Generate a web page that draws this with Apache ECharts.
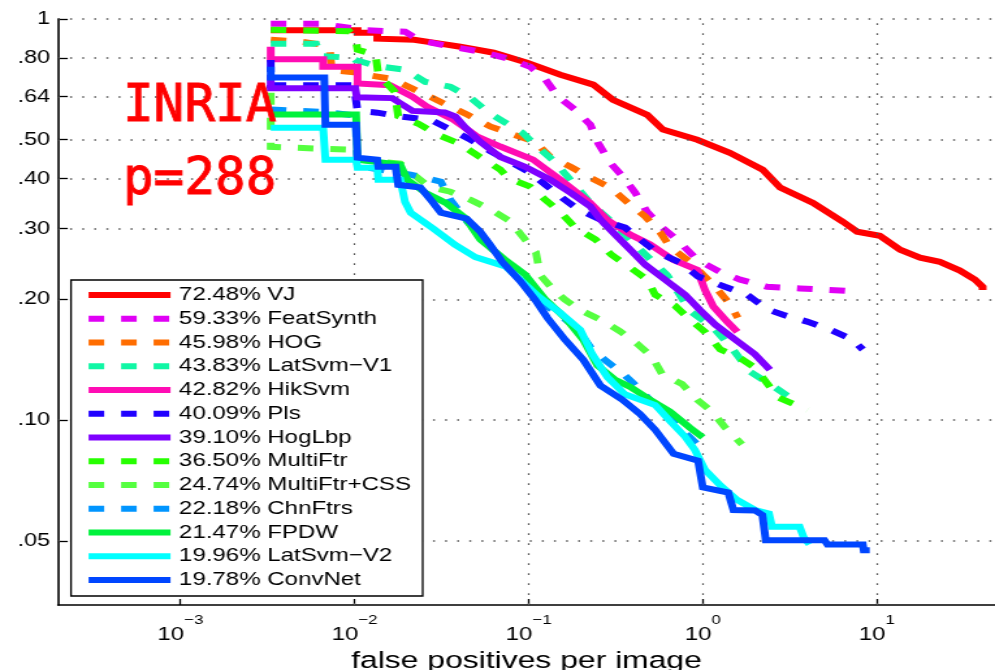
<!DOCTYPE html>
<html>
<head>
<meta charset="utf-8">
<script src="https://cdn.jsdelivr.net/npm/echarts@6/dist/echarts.min.js"></script>
<style>
html,body{margin:0;padding:0;background:#fff;overflow:hidden}
#wrap{width:995px;height:670px;overflow:hidden}
#chart{width:765px;height:670px;transform:scaleX(1.30065);transform-origin:0 0}
</style>
</head>
<body>
<div id="wrap"><div id="chart"></div></div>
<script>
// ---- data: [false positives per image, miss rate] ----
const methodNames = ['VJ','FeatSynth','HOG','LatSvm\u2212V1','HikSvm','Pls','HogLbp','MultiFtr','MultiFtr+CSS','ChnFtrs','FPDW','LatSvm\u2212V2','ConvNet'];
const logAvgMissRates = ['72.48','59.33','45.98','43.83','42.82','40.09','39.10','36.50','24.74','22.18','21.47','19.96','19.78'];

const vj = [[0.0033,0.937],[0.0104,0.937],[0.0104,0.924],[0.0135,0.924],[0.0135,0.893],[0.022,0.888],[0.031,0.868],[0.0405,0.853],[0.063,0.824],[0.098,0.778],[0.152,0.726],[0.235,0.686],[0.305,0.629],[0.48,0.577],[0.59,0.53],[0.93,0.5],[1.43,0.464],[2.21,0.421],[2.78,0.38],[4.3,0.348],[6.4,0.312],[7.7,0.295],[10.4,0.288],[13.6,0.266],[17.7,0.254],[23,0.248],[30,0.236],[36.6,0.224],[40.5,0.215],[40.5,0.211]];
const featSynth = [[0.0033,0.973],[0.0065,0.973],[0.0082,0.958],[0.0118,0.937],[0.0195,0.93],[0.0235,0.885],[0.0334,0.858],[0.0527,0.829],[0.0763,0.796],[0.102,0.76],[0.125,0.706],[0.148,0.64],[0.185,0.594],[0.226,0.545],[0.251,0.49],[0.294,0.438],[0.349,0.404],[0.409,0.369],[0.48,0.33],[0.585,0.302],[0.71,0.282],[0.93,0.251],[1.26,0.234],[1.64,0.224],[2.34,0.215],[3.62,0.213],[8.2,0.209]];
const hog = [[0.0033,0.888],[0.0049,0.878],[0.0063,0.865],[0.0072,0.838],[0.0074,0.745],[0.0105,0.735],[0.0125,0.722],[0.0162,0.71],[0.0263,0.644],[0.0446,0.577],[0.0605,0.539],[0.082,0.515],[0.109,0.494],[0.133,0.453],[0.174,0.428],[0.226,0.402],[0.294,0.38],[0.373,0.348],[0.467,0.322],[0.569,0.294],[0.65,0.27],[0.845,0.248],[1.18,0.215],[1.4,0.197],[1.59,0.18]];
const latSvmV1 = [[0.0033,0.868],[0.006,0.868],[0.0064,0.808],[0.0098,0.8],[0.0101,0.79],[0.0135,0.763],[0.0195,0.747],[0.0255,0.697],[0.0355,0.678],[0.0464,0.636],[0.058,0.587],[0.0717,0.555],[0.0922,0.52],[0.114,0.477],[0.137,0.446],[0.167,0.405],[0.226,0.348],[0.313,0.307],[0.437,0.266],[0.624,0.23],[0.846,0.187],[1.15,0.17],[1.49,0.15],[1.87,0.132],[2.43,0.123],[3.16,0.114]];
const hikSvm = [[0.0033,0.853],[0.0033,0.794],[0.0066,0.794],[0.0066,0.76],[0.0104,0.76],[0.0104,0.691],[0.016,0.684],[0.0215,0.64],[0.026,0.605],[0.037,0.561],[0.0508,0.509],[0.0687,0.481],[0.106,0.446],[0.152,0.3975],[0.226,0.348],[0.282,0.316],[0.383,0.29],[0.499,0.274],[0.675,0.251],[0.93,0.237],[1.03,0.211],[1.15,0.192],[1.38,0.176],[1.58,0.166]];
const pls = [[0.0033,0.79],[0.0033,0.684],[0.0099,0.684],[0.0104,0.59],[0.0135,0.584],[0.0183,0.571],[0.0273,0.561],[0.0355,0.53],[0.0464,0.5],[0.0605,0.468],[0.0786,0.44],[0.102,0.414],[0.125,0.386],[0.156,0.358],[0.193,0.335],[0.258,0.316],[0.358,0.302],[0.437,0.282],[0.547,0.262],[0.741,0.247],[0.94,0.228],[1.34,0.215],[1.8,0.2053],[2.34,0.189],[2.89,0.183],[3.97,0.176],[5.4,0.168],[7.2,0.159],[8.3,0.15]];
const hogLbp = [[0.0033,0.726],[0.0033,0.672],[0.0101,0.672],[0.0103,0.638],[0.0165,0.635],[0.0185,0.615],[0.0215,0.59],[0.033,0.585],[0.038,0.571],[0.0433,0.536],[0.0527,0.494],[0.0687,0.453],[0.0955,0.428],[0.133,0.3975],[0.174,0.369],[0.226,0.341],[0.258,0.316],[0.314,0.29],[0.383,0.266],[0.467,0.244],[0.607,0.224],[0.791,0.2053],[0.965,0.188],[1.18,0.173],[1.53,0.159],[1.99,0.146],[2.43,0.1335]];
const multiFtr = [[0.0033,0.94],[0.0093,0.932],[0.0101,0.9],[0.0104,0.838],[0.0132,0.815],[0.0137,0.726],[0.017,0.659],[0.0178,0.573],[0.0233,0.548],[0.0305,0.513],[0.0397,0.49],[0.05,0.459],[0.0687,0.421],[0.0765,0.401],[0.102,0.382],[0.125,0.354],[0.152,0.33],[0.185,0.302],[0.242,0.282],[0.3,0.258],[0.383,0.24],[0.48,0.2238],[0.533,0.2053],[0.69,0.193],[0.846,0.178],[1.03,0.166],[1.26,0.15],[1.59,0.144],[2.0,0.135],[2.7,0.114],[4.0,0.106]];
const multiFtrCss = [[0.0033,0.655],[0.0033,0.48],[0.0095,0.472],[0.0104,0.446],[0.0183,0.436],[0.021,0.415],[0.0267,0.382],[0.0355,0.371],[0.0464,0.354],[0.0605,0.335],[0.0786,0.313],[0.0922,0.287],[0.11,0.262],[0.1165,0.23],[0.139,0.211],[0.162,0.1995],[0.198,0.188],[0.258,0.178],[0.335,0.1665],[0.42,0.155],[0.51,0.144],[0.585,0.13],[0.76,0.123],[0.93,0.1124],[1.13,0.105],[1.34,0.096],[1.68,0.087]];
const chnFtrs = [[0.0033,0.595],[0.0068,0.586],[0.0101,0.575],[0.0104,0.43],[0.021,0.409],[0.0313,0.393],[0.0355,0.354],[0.0445,0.312],[0.0565,0.282],[0.0687,0.251],[0.0895,0.232],[0.106,0.213],[0.128,0.192],[0.158,0.18],[0.193,0.168],[0.226,0.152],[0.275,0.141],[0.345,0.131],[0.43,0.12],[0.5,0.112],[0.633,0.104],[0.76,0.0946],[0.94,0.0867]];
const fpdw = [[0.0033,0.578],[0.0102,0.578],[0.0104,0.446],[0.0183,0.433],[0.0201,0.3975],[0.0255,0.369],[0.0334,0.348],[0.0433,0.319],[0.0527,0.282],[0.0734,0.251],[0.0955,0.2304],[0.125,0.1995],[0.162,0.18],[0.206,0.1586],[0.248,0.137],[0.314,0.126],[0.383,0.121],[0.5,0.1124],[0.65,0.105],[0.846,0.0957],[1.0,0.0906]];
const latSvmV2 = [[0.0033,0.536],[0.0066,0.536],[0.0068,0.446],[0.0102,0.446],[0.0104,0.426],[0.0135,0.426],[0.0137,0.3975],[0.0183,0.3975],[0.0195,0.35],[0.021,0.329],[0.0284,0.3],[0.0377,0.2737],[0.0494,0.255],[0.0734,0.2417],[0.0895,0.2238],[0.114,0.2035],[0.152,0.185],[0.198,0.168],[0.232,0.146],[0.283,0.128],[0.357,0.116],[0.533,0.109],[0.65,0.0993],[0.79,0.091],[0.9,0.0843],[1.03,0.0752],[1.26,0.0688],[1.57,0.0633],[2.0,0.0597],[2.4,0.0585],[2.5,0.0542],[3.6,0.0542],[3.8,0.051],[4.1,0.049]];
const convNet = [[0.0033,0.76],[0.0033,0.715],[0.0067,0.715],[0.0068,0.545],[0.0102,0.545],[0.0104,0.451],[0.0135,0.446],[0.0137,0.428],[0.0172,0.428],[0.0178,0.386],[0.0239,0.38],[0.028,0.35],[0.0313,0.329],[0.044,0.318],[0.0527,0.295],[0.06,0.2737],[0.0705,0.248],[0.0895,0.222],[0.109,0.1995],[0.128,0.18],[0.162,0.1586],[0.206,0.1414],[0.258,0.122],[0.345,0.1124],[0.437,0.1035],[0.533,0.0946],[0.68,0.0824],[0.94,0.0792],[0.97,0.0792],[1.0,0.068],[1.4,0.066],[1.5,0.0597],[2.0,0.0595],[2.2,0.058],[2.3,0.0502],[5.0,0.0502],[5.2,0.049],[8.3,0.049],[8.4,0.0474],[9.1,0.0474]];

const curves = [vj, featSynth, hog, latSvmV1, hikSvm, pls, hogLbp, multiFtr, multiFtrCss, chnFtrs, fpdw, latSvmV2, convNet];

const xTickValues = [0.001, 0.01, 0.1, 1, 10];
const yTickValues = [0.05, 0.1, 0.2, 0.3, 0.4, 0.5, 0.64, 0.8, 1];
const yTickLabels = ['.05', '.10', '.20', '.30', '.40', '.50', '.64', '.80', '1'];

// ---- styles ----
const colors = ['#ff0000','#e000f5','#ff6d00','#10f7a5','#ff0cb4','#2000ff','#7f00ff','#26ff00','#55ff40','#0095ff','#00f23c','#00ffff','#0046ff'];
const dashed = [false,true,true,true,false,true,false,true,true,true,false,false,false];
const SX = 995 / 765;
const FONT = '"Liberation Sans", Arial, Helvetica, sans-serif';

const chart = echarts.init(document.getElementById('chart'), null, {renderer: 'canvas'});

const labelOf = (i) => logAvgMissRates[i] + '% ' + methodNames[i];

const series = [{
  type: 'line',
  name: '__grid',
  data: [],
  silent: true,
  z: 1,
  markLine: {
    silent: true,
    symbol: 'none',
    animation: false,
    label: {show: false},
    lineStyle: {color: '#555', width: 1.5, type: [1.5, 7.8]},
    emphasis: {disabled: true},
    data: yTickValues.map(v => ({yAxis: v}))
      .concat(xTickValues.map(v => ({xAxis: v, lineStyle: {color: '#555', width: 1.2, type: [1.8, 8.2]}})))
  }
}];

curves.forEach((d, i) => {
  series.push({
    type: 'line',
    name: labelOf(i),
    data: d,
    symbol: 'none',
    showSymbol: false,
    silent: true,
    z: 2 + i,
    color: colors[i],
    lineStyle: {color: colors[i], width: 6, type: dashed[i] ? [12, 13] : 'solid', cap: 'butt', join: 'miter'},
    emphasis: {disabled: true},
    animation: false
  });
});

const option = {
  animation: false,
  backgroundColor: '#fff',
  grid: {left: 44.6, right: 0, top: 19, bottom: 65, outerBoundsMode: 'none', containLabel: false},
  xAxis: {
    type: 'log',
    logBase: 10,
    min: 0.000198,
    max: 47.7,
    name: 'false positives per image',
    nameLocation: 'middle',
    nameGap: 40,
    nameTextStyle: {color: '#000', fontSize: 24.5, fontFamily: FONT},
    axisLine: {show: true, lineStyle: {color: '#000', width: 1.6}},
    axisTick: {show: true, inside: true, length: 6, customValues: xTickValues, lineStyle: {color: '#000', width: 1.3}},
    minorTick: {show: false},
    splitLine: {show: false},
    axisLabel: {
      customValues: xTickValues,
      margin: 9,
      color: '#000',
      formatter: (v) => {
        const e = Math.round(Math.log10(v));
        return '{b|10}{s|' + (e < 0 ? '\u2212' + (-e) : String(e)) + '}';
      },
      rich: {
        b: {fontSize: 18.5, lineHeight: 30, verticalAlign: 'bottom', fontFamily: FONT, color: '#000'},
        s: {fontSize: 13, lineHeight: 10, verticalAlign: 'top', fontFamily: FONT, color: '#000'}
      }
    }
  },
  yAxis: {
    type: 'log',
    logBase: 10,
    min: 0.0346,
    max: 1,
    axisLine: {show: true, lineStyle: {color: '#000', width: 1.6}},
    axisTick: {show: true, inside: true, length: 7.5, customValues: yTickValues, lineStyle: {color: '#000', width: 1.3}},
    minorTick: {show: false},
    splitLine: {show: false},
    axisLabel: {
      customValues: yTickValues,
      margin: 6,
      color: '#000',
      fontSize: 18,
      fontFamily: FONT,
      formatter: (v) => {
        const k = yTickValues.findIndex(t => Math.abs(t / v - 1) < 1e-6);
        return k >= 0 ? yTickLabels[k] : '';
      }
    }
  },
  legend: {
    show: true,
    orient: 'vertical',
    left: 54.6,
    top: 280,
    data: curves.map((d, i) => labelOf(i)),
    selectedMode: false,
    itemWidth: 63,
    itemHeight: 14,
    itemGap: 3.75,
    padding: [5, 9, 6, 10.5],
    backgroundColor: '#fff',
    borderColor: '#000',
    borderWidth: 1.3,
    borderRadius: 0,
    itemStyle: {opacity: 0, borderWidth: 0},
    lineStyle: {width: 6},
    textStyle: {color: '#000', fontSize: 18.5, fontFamily: FONT, lineHeight: 20, padding: [0, 0, 0, 1.5]},
    z: 10
  },
  graphic: [
    {type: 'text', x: 94.5, y: 108, scaleX: 1 / SX, z: 100,
     style: {text: 'INRIA', font: '51px "DejaVu Sans Mono", monospace', fill: '#ff0000', stroke: '#ff0000', lineWidth: 1, verticalAlign: 'middle', align: 'left'}},
    {type: 'text', x: 94.5, y: 181, scaleX: 1 / SX, z: 100,
     style: {text: 'p=288', font: '51px "DejaVu Sans Mono", monospace', fill: '#ff0000', stroke: '#ff0000', lineWidth: 1, verticalAlign: 'middle', align: 'left'}}
  ],
  series: series
};

chart.setOption(option);
</script>
</body>
</html>
